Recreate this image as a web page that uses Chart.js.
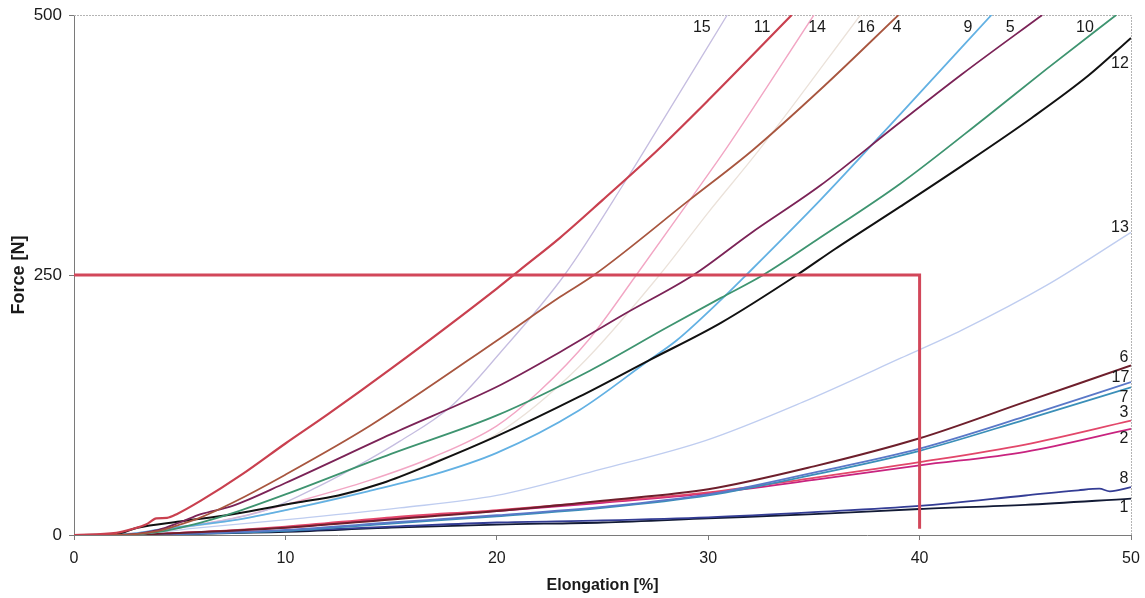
<!DOCTYPE html>
<html>
<head>
    <script src="https://cdn.jsdelivr.net/npm/chart.js@4.4.1/dist/chart.umd.min.js"></script>
    <style>
        body {
            margin: 0;
            padding: 0;
            background: #fff;
        }
        #forceChart {
            display: block;
        }
    </style>
</head>
<body>
<canvas id="forceChart" width="1145" height="598"></canvas>

<script>
    // elongation [%] / force [N] per specimen
    const e11 = [0, 2, 2.8, 3.4, 3.9, 4.4, 4.9, 6, 8, 10, 12, 15, 20, 21.1, 23, 25, 27.6, 30, 33.95];
    const f11 = [0, 2, 6, 10, 16, 16.5, 20.5, 33, 59, 88, 116, 160, 237, 255, 286, 322, 370, 418, 500];

    const e4 = [0, 2, 4, 5, 6, 7.5, 10, 14, 20.15, 23, 24.6, 29.1, 32.1, 35.5, 39];
    const f4 = [0, 0, 4, 10, 17, 31, 58, 105, 189, 229, 250, 322, 370, 432, 500];

    const e5 = [0, 2, 4, 5, 6, 7.5, 10, 15, 20.15, 23, 26, 29.3, 32, 35.3, 38.9, 42, 45.8];
    const f5 = [0, 0, 5, 12, 20, 28, 50, 97, 144, 176, 212, 250, 290, 336, 394, 443, 500];

    const e10 = [0, 2, 4, 6, 7.5, 10, 15, 20, 24.4, 28, 30.6, 32.6, 35.3, 39.1, 43.1, 46, 49.3];
    const f10 = [0, 0, 3, 12, 21, 39, 78, 115, 158, 199, 228, 250, 286, 338, 401, 448, 500];

    const e12 = [0, 2, 3, 5, 7.5, 10.5, 12.5, 14.6, 17, 20, 23.9, 27.2, 30.6, 34.2, 36, 39.1, 42, 45.3, 48, 50];
    const f12 = [0, 1, 7, 13, 20, 31, 38, 50, 69, 95, 133, 168, 204, 250, 275, 316, 355, 401, 442, 478];

    const e9 = [0, 2, 4.3, 7.5, 10.7, 13.9, 17, 20, 23.9, 27.2, 28.5, 30.7, 31.8, 35.3, 39.1, 43.4];
    const f9 = [0, 0, 6, 14, 27, 42, 58, 79, 120, 168, 187, 228, 250, 322, 405, 500];

    const e15 = [0, 2, 4, 6.8, 9.1, 11.5, 13.9, 15.4, 17.8, 20.15, 23.2, 26.2, 26.9, 30.9];
    const f15 = [0, 1, 4, 13, 24, 46, 72, 90, 123, 175, 250, 344, 367, 500];

    const e14 = [0, 2, 4, 7.5, 10.7, 13.9, 17, 20, 22, 24.4, 26.6, 29.2, 30.8, 35];
    const f14 = [0, 0, 5, 16, 33, 52, 75, 105, 138, 189, 250, 324, 370, 500];

    const e16 = [0, 2, 4, 7.5, 10.7, 13.9, 17, 20, 23.9, 27.7, 30, 32.4, 37.2];
    const f16 = [0, 0, 4, 14, 27, 45, 70, 97, 162, 250, 310, 370, 500];

    const e13 = [0, 2, 6, 10.7, 15.4, 20, 24.9, 29.9, 34.5, 39.1, 42, 46, 50];
    const f13 = [0, 0, 7, 16, 26, 38, 63, 91, 128, 170, 197, 240, 291];

    // low-stiffness specimens share one elongation grid
    const eLow = [0, 2, 5, 10, 15, 20, 25, 30, 35, 40, 45, 50];
    const f6 = [0, 0, 2, 7, 15, 23, 33, 44, 66, 93, 128, 163];
    const f17 = [0, 0, 1, 5, 12, 19, 27, 39, 60, 83, 114, 147];
    const f7 = [0, 0, 1, 4, 11, 18, 26, 38, 58, 81, 111, 142];
    const f3 = [0, 0, 2, 8, 17, 24, 32, 41, 55, 70, 87, 110];
    const f2 = [0, 0, 2, 7, 16, 23, 31, 40, 53, 67, 80, 102];
    const f1 = [0, 0, 1, 3, 7, 10, 12, 16, 20, 25, 29, 35];

    const e8 = [0, 2, 5, 10, 15, 20, 25, 30, 35, 40, 45, 47.5, 48.5, 49, 50];
    const f8 = [0, 0, 1, 4, 8, 12, 14, 17, 22, 28, 38, 43, 44.5, 42, 46];

    // 250 N / 40 % limit
    const eLimit = [0, 40, 40];
    const fLimit = [250, 250, 6];

    // curve numbers and where they sit
    const tagNames = ['15', '11', '14', '16', '4', '9', '5', '10', '12', '13', '6', '17', '7', '3', '2', '8', '1'];
    const tagX = [29.7, 32.55, 35.15, 37.46, 38.93, 42.29, 44.28, 47.82, 49.48, 49.48, 49.67, 49.5, 49.67, 49.67, 49.67, 49.67, 49.67];
    const tagY = [487.5, 487.5, 487.5, 487.5, 487.5, 487.5, 487.5, 487.5, 452.9, 295.2, 171, 151, 131.7, 117.3, 92.3, 53.8, 26];

    const xTicks = [0, 10, 20, 30, 40, 50];
    const yTicks = [0, 250, 500];

    function pts(xs, ys) {
        return xs.map((x, i) => ({x: x, y: ys[i]}));
    }

    function curve(label, xs, ys, color, width) {
        return {
            label: label,
            data: pts(xs, ys),
            borderColor: color,
            backgroundColor: color,
            borderWidth: width,
            showLine: true,
            pointRadius: 0,
            cubicInterpolationMode: 'monotone',
            fill: false
        };
    }

    const datasets = [
        {
            label: 'limit',
            data: pts(eLimit, fLimit),
            borderColor: '#d2475a',
            borderWidth: 3,
            showLine: true,
            pointRadius: 0,
            tension: 0
        },
        curve('11', e11, f11, '#c9404f', 2.2),
        curve('4', e4, f4, '#a8563f', 1.8),
        curve('5', e5, f5, '#7b2357', 1.8),
        curve('10', e10, f10, '#3e9470', 1.8),
        curve('12', e12, f12, '#111111', 2),
        curve('9', e9, f9, '#63b1e3', 1.8),
        curve('15', e15, f15, '#c5bde0', 1.3),
        curve('14', e14, f14, '#f2a6c4', 1.4),
        curve('16', e16, f16, '#ebe2da', 1.3),
        curve('13', e13, f13, '#bfcdf0', 1.3),
        curve('6', eLow, f6, '#6e1f2c', 2),
        curve('17', eLow, f17, '#5a78c8', 1.8),
        curve('7', eLow, f7, '#3b8fb8', 1.8),
        curve('3', eLow, f3, '#e2476a', 1.8),
        curve('2', eLow, f2, '#c8237f', 1.8),
        curve('8', e8, f8, '#343d95', 1.8),
        curve('1', eLow, f1, '#121a35', 1.8)
    ];

    // thin frame on the top and right of the plot
    const framePlugin = {
        id: 'frame',
        beforeDatasetsDraw(chart) {
            const {ctx, chartArea: a} = chart;
            ctx.save();
            ctx.strokeStyle = '#b4b4b4';
            ctx.lineWidth = 1;
            ctx.setLineDash([2, 1]);
            ctx.beginPath();
            ctx.moveTo(a.left, a.top + 0.5);
            ctx.lineTo(a.right + 0.5, a.top + 0.5);
            ctx.lineTo(a.right + 0.5, a.bottom);
            ctx.stroke();
            ctx.restore();
        }
    };

    // specimen numbers next to the curves
    const tagPlugin = {
        id: 'tags',
        afterDatasetsDraw(chart) {
            const {ctx, scales} = chart;
            ctx.save();
            ctx.font = '16px "Liberation Sans", Arial, sans-serif';
            ctx.fillStyle = '#1a1a1a';
            ctx.textAlign = 'center';
            ctx.textBaseline = 'middle';
            tagNames.forEach((t, i) => {
                ctx.fillText(t, scales.x.getPixelForValue(tagX[i]), scales.y.getPixelForValue(tagY[i]));
            });
            ctx.restore();
        }
    };

    new Chart(document.getElementById('forceChart'), {
        type: 'scatter',
        data: {datasets: datasets},
        plugins: [framePlugin, tagPlugin],
        options: {
            responsive: false,
            animation: false,
            devicePixelRatio: 1,
            layout: {
                padding: {left: 0, top: 15, right: 14, bottom: 0}
            },
            plugins: {
                legend: {display: false},
                tooltip: {enabled: false}
            },
            scales: {
                x: {
                    type: 'linear',
                    min: 0,
                    max: 50,
                    afterFit(scale) {
                        scale.height = 63;
                        scale.paddingLeft = 0;
                        scale.paddingRight = 10;
                    },
                    afterBuildTicks(scale) {
                        scale.ticks = xTicks.map(v => ({value: v}));
                    },
                    border: {display: true, color: '#7a7a7a', width: 1},
                    grid: {
                        drawOnChartArea: false,
                        drawTicks: true,
                        tickLength: 5,
                        color: '#7a7a7a'
                    },
                    ticks: {
                        color: '#1a1a1a',
                        padding: 9,
                        maxRotation: 0,
                        font: {family: '"Liberation Sans", Arial, sans-serif', size: 16}
                    },
                    title: {
                        display: true,
                        text: 'Elongation [%]',
                        color: '#1a1a1a',
                        padding: {top: 0, bottom: 3},
                        font: {family: '"Liberation Sans", Arial, sans-serif', size: 16, weight: 'bold'}
                    }
                },
                y: {
                    type: 'linear',
                    min: 0,
                    max: 500,
                    afterFit(scale) {
                        scale.width = 74;
                        scale.paddingTop = 0;
                        scale.paddingBottom = 0;
                    },
                    afterBuildTicks(scale) {
                        scale.ticks = yTicks.map(v => ({value: v}));
                    },
                    border: {display: true, color: '#7a7a7a', width: 1},
                    grid: {
                        drawOnChartArea: false,
                        drawTicks: true,
                        tickLength: 5,
                        color: '#7a7a7a'
                    },
                    ticks: {
                        color: '#1a1a1a',
                        padding: 7,
                        font: {family: '"Liberation Sans", Arial, sans-serif', size: 17}
                    },
                    title: {
                        display: true,
                        text: 'Force [N]',
                        color: '#1a1a1a',
                        padding: {top: 8, bottom: 0},
                        font: {family: '"Liberation Sans", Arial, sans-serif', size: 18, weight: 'bold'}
                    }
                }
            }
        }
    });
</script>
</body>
</html>
